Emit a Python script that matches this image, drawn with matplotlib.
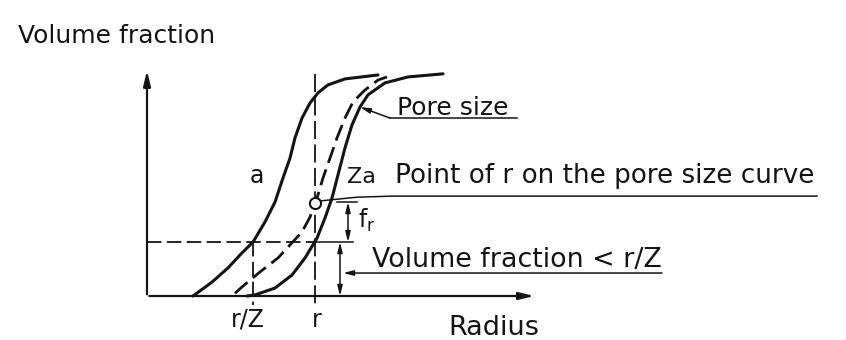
import numpy as np
import matplotlib.pyplot as plt

# curves: radius (arbitrary units) vs volume fraction (0..1)
a_r = [0.46, 0.65, 0.81, 0.95, 1.06, 1.18, 1.28, 1.36, 1.43, 1.48, 1.55, 1.63,
       1.71, 1.81, 1.98, 2.31]
a_f = [0.0, 0.063, 0.127, 0.195, 0.244, 0.335, 0.425, 0.534, 0.624, 0.715, 0.805,
       0.873, 0.919, 0.955, 0.982, 1.0]

za_r = [1.00, 1.08, 1.28, 1.45, 1.58, 1.70, 1.78, 1.85, 1.91, 1.98, 2.05, 2.13,
        2.21, 2.38, 2.61, 2.96]
za_f = [0.0, 0.005, 0.036, 0.095, 0.172, 0.262, 0.353, 0.443, 0.548, 0.670, 0.774,
        0.855, 0.910, 0.964, 0.991, 1.005]

pore_r = [0.88, 0.95, 1.13, 1.31, 1.43, 1.55, 1.63, 1.70, 1.76, 1.83, 1.90, 1.98,
          2.06, 2.18, 2.31, 2.40]
pore_f = [0.012, 0.041, 0.109, 0.172, 0.231, 0.290, 0.357, 0.443, 0.534, 0.624,
          0.715, 0.805, 0.878, 0.932, 0.977, 0.991]

r = 1.68
r_over_z = 1.06
f_below = 0.244   # volume fraction < r/Z
f_point = 0.422   # point of r on the pore size curve

ink = '#141414'
fs = 18

fig = plt.figure(figsize=(8.46, 3.40), dpi=100)
ax = fig.add_axes([0, 0, 1, 1])
ax.set_xlim(-1.47, 6.99)
ax.set_ylim(-0.199, 1.339)
ax.axis('off')

# axes with arrows
ax.annotate('', xy=(0, 1.032), xytext=(0, -0.005),
            arrowprops=dict(arrowstyle='-|>,head_length=0.9,head_width=0.22', color=ink, lw=1.6))
ax.annotate('', xy=(3.90, 0), xytext=(-0.005, 0),
            arrowprops=dict(arrowstyle='-|>,head_length=0.9,head_width=0.22', color=ink, lw=1.6))

# curves
kw = dict(color=ink, lw=2.2, solid_joinstyle='round', solid_capstyle='round')
ax.plot(a_r, a_f, **kw)
ax.plot(za_r, za_f, **kw)
ax.plot(pore_r, pore_f, color=ink, lw=2.0, ls=(0, (6, 2.5)))

# construction lines
ax.plot([0, r + 0.02], [f_below, f_below], color=ink, lw=1.3, ls=(0, (8, 3)))
ax.plot([r + 0.02, 2.06], [f_below, f_below], color=ink, lw=1.1)
ax.plot([r_over_z, r_over_z], [f_below, -0.04], color=ink, lw=1.3, ls=(0, (8, 3)))
ax.plot([r, r], [1.005, -0.04], color=ink, lw=1.3, ls=(0, (10, 3)))

# point of r on the pore size curve
ax.plot([r], [f_point], marker='o', ms=8, mfc='white', mec=ink, mew=1.5, zorder=5)

# dimension arrows
dim = dict(arrowstyle='<|-|>,head_length=0.6,head_width=0.15', color=ink, lw=1.1,
           shrinkA=0, shrinkB=0)
ax.plot([1.90, 2.10], [0.425, 0.425], color=ink, lw=1.1)
ax.annotate('', xy=(2.01, 0.425), xytext=(2.01, f_below), arrowprops=dim)
ax.annotate('', xy=(1.93, f_below), xytext=(1.93, 0.0), arrowprops=dim)

# leaders
lead = dict(arrowstyle='-|>,head_length=0.6,head_width=0.15', color=ink, lw=1.1,
            shrinkA=0, shrinkB=0)
ax.annotate('', xy=(2.13, 0.855), xytext=(2.43, 0.805), arrowprops=lead)
ax.plot([2.43, 3.70], [0.805, 0.805], color=ink, lw=1.1)
ax.plot([1.73, 2.10, 2.46, 6.70], [0.430, 0.447, 0.452, 0.452], color=ink, lw=1.1)
ax.annotate('', xy=(1.96, 0.104), xytext=(5.15, 0.104), arrowprops=lead)

# labels
ax.text(-1.29, 1.145, 'Volume fraction', fontsize=fs, color=ink, va='baseline')
ax.text(2.50, 0.819, 'Pore size', fontsize=fs, color=ink, va='baseline')
ax.text(2.48, 0.511, 'Point of r on the pore size curve', fontsize=fs + 0.9, color=ink,
        va='baseline')
ax.text(2.25, 0.131, 'Volume fraction < r/Z', fontsize=fs + 1.4, color=ink, va='baseline')
ax.text(3.01, -0.176, 'Radius', fontsize=fs + 1.5, color=ink, va='baseline')
ax.text(r_over_z - 0.05, -0.140, 'r/Z', fontsize=fs - 1, color=ink, va='baseline', ha='center')
ax.text(r + 0.02, -0.140, 'r', fontsize=fs - 1, color=ink, va='baseline', ha='center')
ax.text(1.10, 0.511, 'a', fontsize=fs - 1, color=ink, va='baseline', ha='center')
ax.text(2.00, 0.511, 'Za', fontsize=fs - 2, color=ink, va='baseline')
ax.text(2.11, 0.308, r'$\mathregular{f_r}$', fontsize=fs - 1, color=ink, va='baseline')

fig.savefig('out.png', dpi=100, facecolor='white')
